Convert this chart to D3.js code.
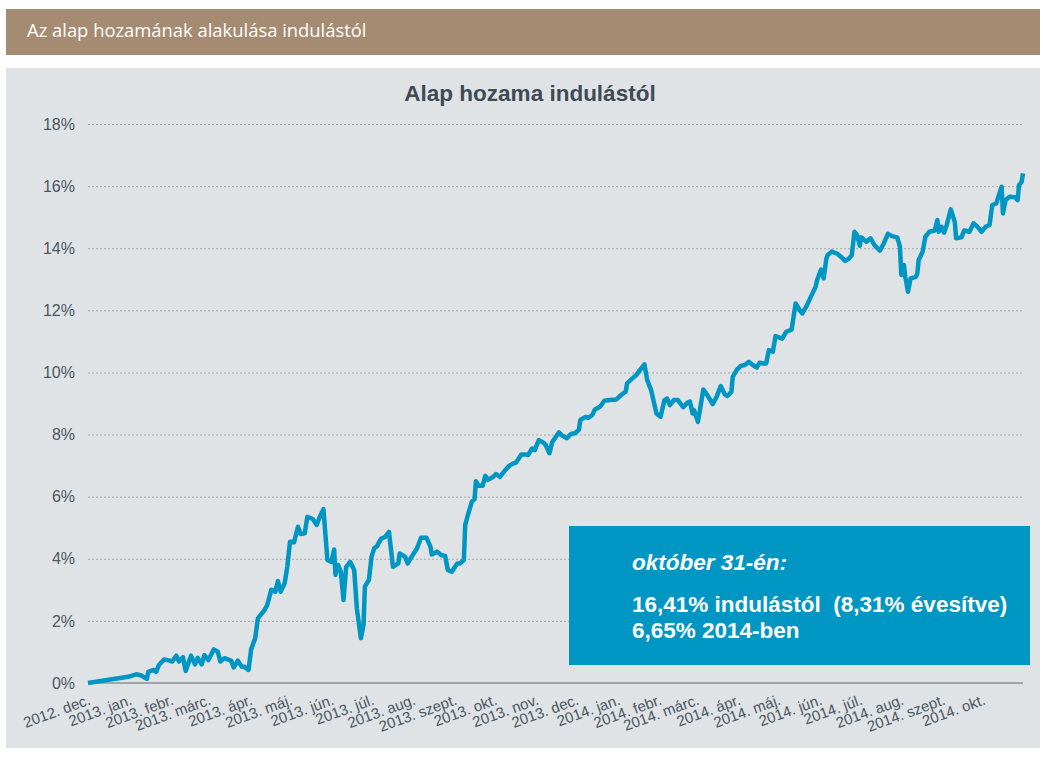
<html>
<head>
<meta charset="UTF-8">
<title>Alap hozama indulástól</title>
<style>
  body { margin: 0; background: #ffffff; }
  .grid line { stroke: #a3a7aa; stroke-width: 1; stroke-dasharray: 2,2; }
  .grid .domain { display: none; }
  .axis .domain { display: none; }
  .axis text { fill: #4b5761; font-family: "Liberation Sans", Arial, sans-serif; }
</style>
</head>
<body>
<script src="https://cdnjs.cloudflare.com/ajax/libs/d3/7.8.5/d3.min.js"></script>
<script>

// hozam indulástól (%), kiolvasva a grafikonról
var dates = [
  "2012-12-01","2012-12-31","2013-01-06","2013-01-10","2013-01-14","2013-01-15","2013-01-19","2013-01-21","2013-01-23","2013-01-27","2013-01-31",
  "2013-02-02","2013-02-05","2013-02-07","2013-02-10","2013-02-12","2013-02-16","2013-02-19","2013-02-21","2013-02-24","2013-02-26",
  "2013-03-01","2013-03-05","2013-03-08","2013-03-10","2013-03-13","2013-03-18","2013-03-20","2013-03-23","2013-03-26","2013-03-28","2013-03-31",
  "2013-04-02","2013-04-05","2013-04-07","2013-04-12","2013-04-14","2013-04-17","2013-04-20","2013-04-22","2013-04-24","2013-04-27","2013-04-29",
  "2013-05-01","2013-05-04","2013-05-07","2013-05-09","2013-05-12","2013-05-14","2013-05-18","2013-05-21","2013-05-23","2013-05-26","2013-05-29",
  "2013-06-01","2013-06-03","2013-06-04","2013-06-06","2013-06-08","2013-06-10","2013-06-12","2013-06-15","2013-06-18","2013-06-20","2013-06-23","2013-06-25","2013-06-26","2013-06-29",
  "2013-07-01","2013-07-03","2013-07-05","2013-07-08","2013-07-11","2013-07-14","2013-07-17","2013-07-21","2013-07-22","2013-07-26","2013-07-28","2013-07-31",
  "2013-08-04","2013-08-07","2013-08-11","2013-08-14","2013-08-15","2013-08-19","2013-08-22","2013-08-25","2013-08-27","2013-08-30",
  "2013-09-03","2013-09-05","2013-09-08","2013-09-09","2013-09-11","2013-09-14","2013-09-16","2013-09-17","2013-09-19","2013-09-22","2013-09-24","2013-09-26","2013-09-30",
  "2013-10-02","2013-10-05","2013-10-09","2013-10-12","2013-10-15","2013-10-17","2013-10-21","2013-10-24","2013-10-26","2013-10-29","2013-10-31",
  "2013-11-03","2013-11-06","2013-11-08","2013-11-11","2013-11-13","2013-11-18","2013-11-20","2013-11-24","2013-11-27","2013-11-30",
  "2013-12-03","2013-12-04","2013-12-08","2013-12-10","2013-12-13","2013-12-15","2013-12-19","2013-12-22","2013-12-26","2013-12-31",
  "2014-01-04","2014-01-07","2014-01-08","2014-01-12","2014-01-15","2014-01-18","2014-01-21","2014-01-23","2014-01-26","2014-01-30",
  "2014-02-02","2014-02-05","2014-02-07","2014-02-09","2014-02-12","2014-02-15","2014-02-19","2014-02-22","2014-02-24","2014-02-26","2014-02-27",
  "2014-03-02","2014-03-06","2014-03-09","2014-03-13","2014-03-16","2014-03-19","2014-03-22","2014-03-24","2014-03-27","2014-03-28","2014-03-31",
  "2014-04-03","2014-04-06","2014-04-09","2014-04-12","2014-04-15","2014-04-17","2014-04-20","2014-04-22","2014-04-24","2014-04-27","2014-04-29",
  "2014-05-04","2014-05-07","2014-05-11","2014-05-14","2014-05-17","2014-05-19","2014-05-22","2014-05-25","2014-05-29","2014-05-30",
  "2014-06-02","2014-06-04","2014-06-06","2014-06-07","2014-06-10","2014-06-14","2014-06-17","2014-06-20","2014-06-23","2014-06-25","2014-06-27","2014-06-29",
  "2014-07-01","2014-07-02","2014-07-06","2014-07-09","2014-07-12","2014-07-16","2014-07-19","2014-07-22","2014-07-25","2014-07-29","2014-07-31",
  "2014-08-01","2014-08-03","2014-08-04","2014-08-06","2014-08-08","2014-08-12","2014-08-13","2014-08-14","2014-08-17","2014-08-19","2014-08-22","2014-08-26","2014-08-28","2014-08-29","2014-08-31",
  "2014-09-02","2014-09-04","2014-09-07","2014-09-10","2014-09-11","2014-09-15","2014-09-17","2014-09-21","2014-09-24","2014-09-27","2014-09-30",
  "2014-10-03","2014-10-06","2014-10-08","2014-10-11","2014-10-15","2014-10-16","2014-10-18","2014-10-21","2014-10-25","2014-10-27","2014-10-28","2014-10-30","2014-10-31"
];

var returns = [
  0, 0.20, 0.28, 0.24, 0.13, 0.36, 0.42, 0.36, 0.58, 0.76, 0.72,
  0.69, 0.88, 0.69, 0.83, 0.39, 0.88, 0.60, 0.81, 0.60, 0.90,
  0.74, 1.08, 1.01, 0.69, 0.80, 0.72, 0.50, 0.72, 0.52, 0.52, 0.42,
  1.09, 1.44, 2.08, 2.35, 2.51, 3.00, 2.94, 3.28, 2.94, 3.21, 3.74,
  4.55, 4.53, 5.03, 4.80, 4.82, 5.35, 5.28, 5.09, 5.32, 5.60, 3.96,
  3.90, 4.30, 3.48, 3.80, 3.58, 2.67, 3.74, 3.90, 3.64, 2.40, 1.44, 1.88, 3.10, 3.32,
  4.07, 4.34, 4.40, 4.64, 4.70, 4.87, 3.74, 3.85, 4.17, 4.07, 3.85, 4.07,
  4.34, 4.68, 4.68, 4.39, 4.14, 4.23, 4.12, 4.09, 3.64, 3.58,
  3.85, 3.85, 3.96, 5.09, 5.41, 5.84, 5.92, 6.50, 6.35, 6.35, 6.67, 6.54, 6.64,
  6.73, 6.64, 6.86, 7.00, 7.07, 7.10, 7.36, 7.36, 7.34, 7.55, 7.50,
  7.82, 7.75, 7.68, 7.40, 7.75, 8.07, 7.98, 7.88, 8.02, 8.04,
  8.15, 8.47, 8.57, 8.54, 8.63, 8.81, 8.90, 9.09, 9.11, 9.13,
  9.29, 9.38, 9.65, 9.81, 9.92, 10.10, 10.26, 9.76, 9.43, 8.68,
  8.57, 9.11, 9.16, 8.95, 9.11, 9.11, 8.88, 9.02, 9.06, 8.68, 8.79,
  8.41, 9.45, 9.27, 8.98, 9.22, 9.56, 9.30, 9.24, 9.38, 9.86, 10.08,
  10.21, 10.24, 10.34, 10.24, 10.16, 10.31, 10.29, 10.29, 10.72, 10.67, 11.17,
  11.09, 11.31, 11.38, 12.22, 12.01, 11.90, 12.12, 12.40, 12.76, 12.97,
  13.31, 13.03, 13.67, 13.78, 13.89, 13.83, 13.72, 13.59, 13.67, 13.78, 14.53, 14.42,
  14.08, 14.35, 14.21, 14.32, 14.10, 13.92, 14.16, 14.46, 14.39, 14.35, 14.05,
  13.14, 13.46, 13.08, 12.60, 13.03, 13.08, 13.19, 13.62, 13.89, 14.37, 14.53, 14.57, 14.91, 14.53, 14.69,
  14.50, 14.75, 15.25, 14.85, 14.32, 14.35, 14.57, 14.53, 14.80, 14.69, 14.53,
  14.69, 14.75, 15.39, 15.44, 15.98, 15.12, 15.55, 15.66, 15.64, 15.55, 16.03, 16.14, 16.41
];

var monthLabels = [
  "2012. dec.", "2013. jan.", "2013. febr.", "2013. márc.", "2013. ápr.", "2013. máj.",
  "2013. jún.", "2013. júl.", "2013. aug.", "2013. szept.", "2013. okt.", "2013. nov.",
  "2013. dec.", "2014. jan.", "2014. febr.", "2014. márc.", "2014. ápr.", "2014. máj.",
  "2014. jún.", "2014. júl.", "2014. aug.", "2014. szept.", "2014. okt."
];

var yTicks = [0, 2, 4, 6, 8, 10, 12, 14, 16, 18];

var headerText = "Az alap hozamának alakulása indulástól";
var chartTitle = "Alap hozama indulástól";
var boxLines = ["október 31-én:", "16,41% indulástól  (8,31% évesítve)", "6,65% 2014-ben"];

var W = 1043, H = 782;
var blue = "#0096c4";
var parseDate = d3.timeParse("%Y-%m-%d");

var data = dates.map(function(d, i) {
  return { date: parseDate(d), value: returns[i] };
});

var svg = d3.select("body").append("svg")
  .attr("width", W)
  .attr("height", H);

// fejléc
svg.append("rect")
  .attr("x", 6).attr("y", 9)
  .attr("width", 1034).attr("height", 46)
  .attr("fill", "#a58b71");

svg.append("text")
  .attr("x", 27).attr("y", 37)
  .attr("fill", "#ffffff")
  .style("font-family", "'Open Sans', sans-serif")
  .style("font-size", "18.4px")
  .text(headerText);

// diagram háttér
svg.append("rect")
  .attr("x", 6).attr("y", 68)
  .attr("width", 1034).attr("height", 680)
  .attr("fill", "#dfe3e6");

svg.append("text")
  .attr("x", 530).attr("y", 101)
  .attr("text-anchor", "middle")
  .attr("fill", "#3e4a54")
  .style("font-family", "'Liberation Sans', Arial, sans-serif")
  .style("font-weight", "bold")
  .style("font-size", "22.5px")
  .text(chartTitle);

var x = d3.scaleTime()
  .domain([parseDate("2012-12-01"), parseDate("2014-10-31")])
  .range([88, 1023]);

var y = d3.scaleLinear()
  .domain([0, 18])
  .range([683, 124]);

// rácsvonalak
svg.append("g")
  .attr("class", "grid")
  .attr("transform", "translate(88,0)")
  .call(d3.axisLeft(y).tickValues(yTicks.slice(1)).tickSize(-935).tickFormat(""));

svg.append("line")
  .attr("x1", 88).attr("x2", 1023)
  .attr("y1", y(0)).attr("y2", y(0))
  .attr("stroke", "#8e9194")
  .attr("stroke-width", 1.5);

// y tengely
svg.append("g")
  .attr("class", "axis")
  .attr("transform", "translate(75,0)")
  .call(d3.axisLeft(y).tickValues(yTicks).tickSize(0).tickPadding(0)
    .tickFormat(function(d) { return d + "%"; }))
  .selectAll("text")
  .style("font-size", "16px");

// x tengely
var monthTicks = d3.timeMonth.range(parseDate("2012-12-01"), parseDate("2014-10-31"));

var xAxisG = svg.append("g")
  .attr("class", "axis")
  .attr("transform", "translate(0,683)")
  .call(d3.axisBottom(x).tickValues(monthTicks).tickSize(0)
    .tickFormat(function(d, i) { return monthLabels[i]; }));

xAxisG.selectAll(".tick text")
  .style("font-size", "15px")
  .style("text-anchor", "end")
  .attr("y", 0)
  .attr("dy", 0)
  .attr("transform", "translate(3,21) rotate(-20)");

// vonal
var line = d3.line()
  .x(function(d) { return x(d.date); })
  .y(function(d) { return y(d.value); });

svg.append("path")
  .datum(data)
  .attr("d", line)
  .attr("fill", "none")
  .attr("stroke", blue)
  .attr("stroke-width", 4.5)
  .attr("stroke-linejoin", "round");

// kiemelő doboz
svg.append("rect")
  .attr("x", 569).attr("y", 526)
  .attr("width", 461).attr("height", 139)
  .attr("fill", blue);

var boxText = svg.append("g")
  .style("font-family", "'Liberation Sans', Arial, sans-serif")
  .style("font-weight", "bold")
  .style("font-size", "22.5px")
  .attr("fill", "#ffffff");

boxText.append("text")
  .attr("x", 632).attr("y", 570)
  .style("font-style", "italic")
  .text(boxLines[0]);

boxText.append("text")
  .attr("x", 632).attr("y", 612)
  .style("white-space", "pre")
  .text(boxLines[1]);

boxText.append("text")
  .attr("x", 632).attr("y", 638)
  .text(boxLines[2]);

</script>
</body>
</html>
